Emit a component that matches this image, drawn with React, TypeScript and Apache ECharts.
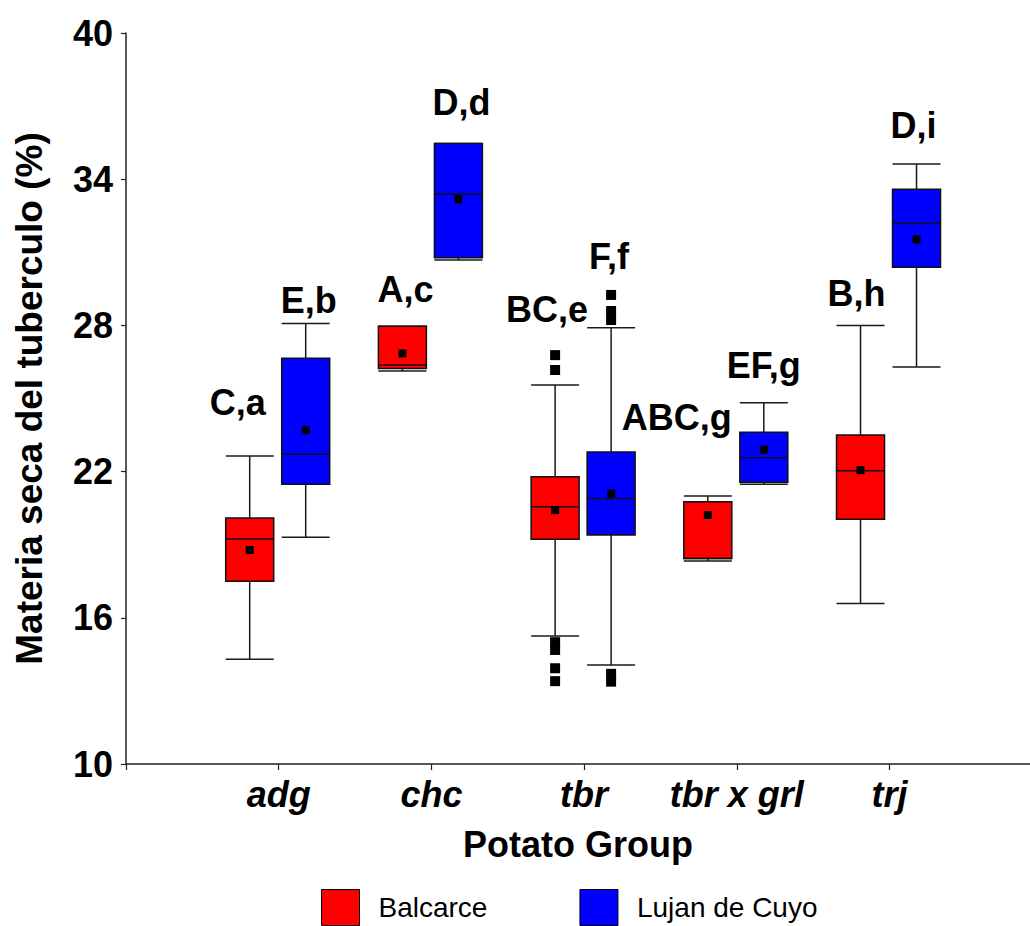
import React, { useEffect, useRef } from "react";
import * as echarts from "echarts";

const categories = ["adg", "chc", "tbr", "tbr x grl", "trj"];
const seriesNames = ["Balcarce", "Lujan de Cuyo"];
const seriesColors = ["#FF0000", "#0000FF"];

// [min whisker, Q1, median, Q3, max whisker]
const balcarceStats = [
  [14.3, 17.5, 19.23, 20.1, 22.64],
  [26.13, 26.23, 26.37, 27.97, 27.97],
  [15.25, 19.22, 20.56, 21.79, 25.55],
  [18.33, 18.43, 18.43, 20.76, 21.0],
  [16.59, 20.04, 22.04, 23.5, 28.0],
];
const lujanStats = [
  [19.31, 21.48, 22.71, 26.65, 28.08],
  [30.68, 30.78, 33.39, 35.46, 35.46],
  [14.06, 19.4, 20.9, 22.8, 27.9],
  [21.48, 21.56, 22.57, 23.62, 24.83],
  [26.29, 30.39, 32.18, 33.59, 34.62],
];
const balcarceMeans = [18.78, 26.85, 20.42, 20.22, 22.06];
const lujanMeans = [23.7, 33.18, 21.1, 22.9, 31.53];

// [category index, value]
const balcarceOutliers = [
  [2, 26.78],
  [2, 26.17],
  [2, 15.0],
  [2, 14.68],
  [2, 13.93],
  [2, 13.4],
];
const lujanOutliers = [
  [2, 29.25],
  [2, 28.59],
  [2, 28.22],
  [2, 13.7],
  [2, 13.38],
];

// significance letters: category, group (0 Balcarce / 1 Lujan), y value, text
const letterCats = [0, 0, 1, 1, 2, 2, 3, 3, 4, 4];
const letterGroups = [0, 1, 0, 1, 0, 1, 0, 1, 0, 1];
const letterY = [24.82, 29.04, 29.49, 37.14, 28.66, 30.82, 24.22, 26.37, 29.32, 36.22];
const letterTexts = ["C,a", "E,b", "A,c", "D,d", "BC,e", "F,f", "ABC,g", "EF,g", "B,h", "D,i"];
const letterNudge = [-12, 3, 3, 3, -8, -2, -31, 0, -4, -3];

const yTicks = [10, 16, 22, 28, 34, 40];

const GROUP_OFFSET = [-29, 27];
const HALF_BOX = 24;
const FONT = "'Liberation Sans', Arial, Helvetica, sans-serif";

function boxSeries(name: string, stats: number[][], group: number) {
  return {
    type: "custom",
    name,
    itemStyle: { color: seriesColors[group] },
    data: stats.map((s, i) => [i + 1, ...s]),
    encode: { x: 0, y: [1, 2, 3, 4, 5] },
    renderItem: (params: any, api: any) => {
      const x = api.value(0);
      const p = [1, 2, 3, 4, 5].map((k) => api.coord([x, api.value(k)]));
      const cx = p[0][0] + GROUP_OFFSET[group];
      const yMin = p[0][1];
      const yQ1 = p[1][1];
      const yMed = p[2][1];
      const yQ3 = p[3][1];
      const yMax = p[4][1];
      const lineStyle = { stroke: "#1a1a1a", lineWidth: 1.5 };
      return {
        type: "group",
        children: [
          { type: "line", shape: { x1: cx, y1: yQ3, x2: cx, y2: yMax }, style: lineStyle },
          { type: "line", shape: { x1: cx, y1: yQ1, x2: cx, y2: yMin }, style: lineStyle },
          { type: "line", shape: { x1: cx - HALF_BOX, y1: yMax, x2: cx + HALF_BOX, y2: yMax }, style: lineStyle },
          { type: "line", shape: { x1: cx - HALF_BOX, y1: yMin, x2: cx + HALF_BOX, y2: yMin }, style: lineStyle },
          {
            type: "rect",
            shape: { x: cx - HALF_BOX, y: yQ3, width: HALF_BOX * 2, height: yQ1 - yQ3 },
            style: { fill: seriesColors[group], stroke: "#111", lineWidth: 1.5 },
          },
          { type: "line", shape: { x1: cx - HALF_BOX, y1: yMed, x2: cx + HALF_BOX, y2: yMed }, style: { stroke: "#111", lineWidth: 1.5 } },
        ],
      };
    },
    z: 2,
  };
}

function pointSeries(name: string, data: number[][], group: number, size: number) {
  return {
    type: "scatter",
    name,
    data,
    symbol: "rect",
    symbolSize: size,
    symbolOffset: [GROUP_OFFSET[group], 0],
    itemStyle: { color: "#000", opacity: 1 },
    z: 3,
  };
}

export default function App() {
  const ref = useRef<HTMLDivElement>(null);
  useEffect(() => {
    if (!ref.current) return;
    const chart = echarts.init(ref.current, undefined, { renderer: "svg" });

    const letterData = letterTexts.map((t, i) => ({
      value: [letterCats[i] + 1, letterY[i]],
      label: { offset: [GROUP_OFFSET[letterGroups[i]] + letterNudge[i], 0] },
      name: t,
    }));

    chart.setOption({
      animation: false,
      backgroundColor: "#fff",
      textStyle: { fontFamily: FONT },
      grid: { left: 126, right: 0, top: 33, bottom: 162, containLabel: false },
      legend: {
        data: seriesNames.map((n, i) => ({
          name: n,
          icon: "rect",
          itemStyle: { color: seriesColors[i], borderColor: "#000", borderWidth: 1 },
        })),
        left: 316,
        top: 884,
        itemWidth: 38,
        itemHeight: 36,
        itemGap: 92,
        selectedMode: false,
        textStyle: { fontSize: 28, color: "#000", fontFamily: FONT, padding: [0, 0, 0, 14] },
      },
      xAxis: {
        type: "value",
        min: 0,
        max: 5.92,
        name: "Potato Group",
        nameLocation: "middle",
        nameGap: 62,
        nameTextStyle: { fontSize: 36, fontWeight: "bold", color: "#000", fontFamily: FONT },
        axisLine: { show: true, onZero: false, lineStyle: { color: "#222", width: 1.5 } },
        axisTick: { show: true, length: 6, customValues: [0, 1, 2, 3, 4, 5], lineStyle: { color: "#222", width: 1.2 } },
        axisLabel: {
          customValues: [1, 2, 3, 4, 5],
          formatter: (v: number) => categories[Math.round(v) - 1] ?? "",
          fontSize: 36,
          fontWeight: "bold",
          fontStyle: "italic",
          color: "#000",
          fontFamily: FONT,
          margin: 12,
        },
        splitLine: { show: false },
      },
      yAxis: {
        type: "value",
        min: 10,
        max: 40,
        name: "Materia seca del tuberculo (%)",
        nameLocation: "middle",
        nameGap: 78,
        nameRotate: 90,
        nameTextStyle: { fontSize: 37, fontWeight: "bold", color: "#000", fontFamily: FONT },
        axisLine: { show: true, lineStyle: { color: "#222", width: 1.5 } },
        axisTick: { show: true, length: 5, customValues: yTicks, lineStyle: { color: "#222", width: 1.2 } },
        axisLabel: {
          customValues: yTicks,
          fontSize: 36,
          fontWeight: "bold",
          color: "#000",
          fontFamily: FONT,
          margin: 13,
        },
        splitLine: { show: false },
      },
      series: [
        boxSeries(seriesNames[0], balcarceStats, 0),
        boxSeries(seriesNames[1], lujanStats, 1),
        pointSeries("Balcarce mean", balcarceMeans.map((m, i) => [i + 1, m]), 0, 8),
        pointSeries("Lujan de Cuyo mean", lujanMeans.map((m, i) => [i + 1, m]), 1, 8),
        pointSeries("Balcarce outliers", balcarceOutliers.map(([c, v]) => [c + 1, v]), 0, 10),
        pointSeries("Lujan de Cuyo outliers", lujanOutliers.map(([c, v]) => [c + 1, v]), 1, 10),
        {
          type: "scatter",
          name: "letters",
          data: letterData,
          symbolSize: 1,
          itemStyle: { color: "rgba(0,0,0,0)", opacity: 1 },
          label: {
            show: true,
            position: "inside",
            formatter: (p: any) => p.name,
            fontSize: 36,
            fontWeight: "bold",
            color: "#000",
            opacity: 1,
            fontFamily: FONT,
          },
          z: 4,
        },
      ],
    });
    return () => chart.dispose();
  }, []);
  return <div ref={ref} style={{ position: "fixed", left: 0, top: 0, width: 1030, height: 926, background: "#fff" }} />;
}
